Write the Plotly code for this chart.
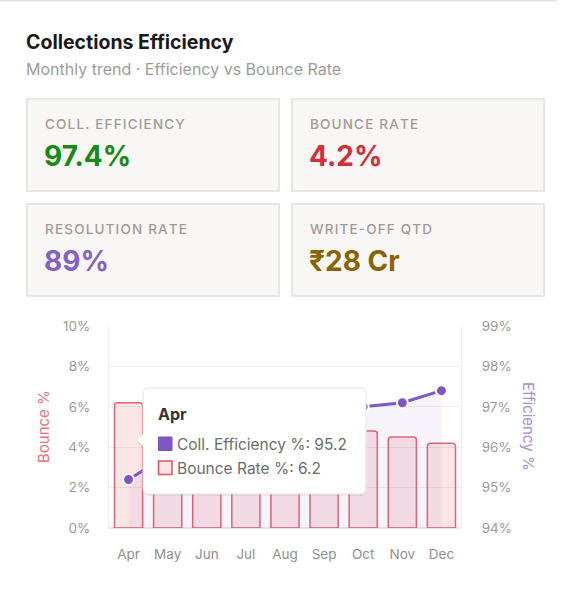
import plotly.graph_objects as go

# data
months = ['Apr', 'May', 'Jun', 'Jul', 'Aug', 'Sep', 'Oct', 'Nov', 'Dec']
bounce_rate = [6.2, 5.8, 5.5, 5.3, 5.1, 4.9, 4.8, 4.5, 4.2]
coll_efficiency = [95.2, 95.8, 96.1, 96.3, 96.6, 96.8, 97.0, 97.1, 97.4]

kpi_labels = ['COLL. EFFICIENCY', 'BOUNCE RATE', 'RESOLUTION RATE', 'WRITE-OFF QTD']
kpi_values = ['97.4%', '4.2%', '89%', '₹28 Cr']
kpi_colors = ['#178a17', '#d0303c', '#8660c4', '#8a6200']

W, H = 567, 594
PL, PR, PT, PB = 109, 461, 326, 528  # plot area in pixels

FONT = 'Inter, Roboto, sans-serif'
PURPLE = '#7e57c2'


def px(x):
    return (x - PL) / (PR - PL)


def py(y):
    return (PB - y) / (PB - PT)


def spaced(s):
    # poor man's letter-spacing
    return '\u200a'.join(s)


fig = go.Figure()

fig.add_trace(go.Bar(
    x=months, y=bounce_rate, name='Bounce Rate %',
    marker=dict(color='rgba(220,53,69,0.13)',
                line=dict(color='rgba(220,53,69,0.75)', width=1.5),
                cornerradius=3),
    width=0.72,
))

fig.add_trace(go.Scatter(
    x=months, y=coll_efficiency, name='Coll. Efficiency %', yaxis='y2',
    mode='lines+markers',
    line=dict(color=PURPLE, width=3),
    marker=dict(size=11, color=PURPLE, line=dict(color='white', width=2)),
    fill='tozeroy', fillcolor='rgba(126,87,194,0.07)',
))

shapes = []
annotations = []

# top border of the card
shapes.append(dict(type='line', xref='paper', yref='paper',
                   x0=px(0), x1=px(557), y0=py(0.5), y1=py(0.5),
                   line=dict(color='#e2e2e2', width=2)))

# header
annotations.append(dict(text='<b>Collections Efficiency</b>', xref='paper', yref='paper',
                        x=px(24), y=py(42), xanchor='left', yanchor='middle', showarrow=False,
                        font=dict(family=FONT, size=19.5, color='#1a1a1a')))
annotations.append(dict(text='Monthly trend · Efficiency vs Bounce Rate', xref='paper', yref='paper',
                        x=px(24), y=py(69), xanchor='left', yanchor='middle', showarrow=False,
                        font=dict(family=FONT, size=16, color='#9c9c9c')))

# KPI cards
card_x = [(27, 279), (292, 544)]
card_y = [(99, 191), (204, 296)]
for i, (lab, val, col) in enumerate(zip(kpi_labels, kpi_values, kpi_colors)):
    x0, x1 = card_x[i % 2]
    y0, y1 = card_y[i // 2]
    shapes.append(dict(type='rect', xref='paper', yref='paper',
                       x0=px(x0), x1=px(x1), y0=py(y0), y1=py(y1),
                       fillcolor='#f8f7f5', line=dict(color='#e8e6e3', width=2)))
    annotations.append(dict(text=spaced(lab), xref='paper', yref='paper',
                            x=px(x0 + 16), y=py(y0 + 25), xanchor='left', yanchor='middle',
                            showarrow=False,
                            font=dict(family=FONT, size=13.5, weight=500, color='#a19b95')))
    annotations.append(dict(text='<b>' + val + '</b>', xref='paper', yref='paper',
                            x=px(x0 + 15), y=py(y0 + 57), xanchor='left', yanchor='middle',
                            showarrow=False,
                            font=dict(family=FONT, size=28, color=col)))

# axis titles
annotations.append(dict(text='Bounce %', xref='paper', yref='paper', x=px(43), y=py(427),
                        textangle=-90, showarrow=False, xanchor='center', yanchor='middle',
                        font=dict(family=FONT, size=15, color='#e8737e')))
annotations.append(dict(text='Efficiency %', xref='paper', yref='paper', x=px(529), y=py(426),
                        textangle=90, showarrow=False, xanchor='center', yanchor='middle',
                        font=dict(family=FONT, size=15, color='#a98bd6')))

# hover tooltip for Apr
tx0, tx1, ty0, ty1, r = 143, 366, 388, 494, 6
cy = 440


def tip_path(dx=0, dy=0):
    a0, a1, b0, b1 = px(tx0 + dx), px(tx1 + dx), py(ty0 + dy), py(ty1 + dy)
    rx = r / (PR - PL)
    ry = r / (PB - PT)
    c_top = py(cy - 6 + dy)
    c_bot = py(cy + 6 + dy)
    c_tip = px(tx0 - 6 + dx)
    c_mid = py(cy + dy)
    return (f'M {a0 + rx},{b0} L {a1 - rx},{b0} Q {a1},{b0} {a1},{b0 - ry} '
            f'L {a1},{b1 + ry} Q {a1},{b1} {a1 - rx},{b1} '
            f'L {a0 + rx},{b1} Q {a0},{b1} {a0},{b1 + ry} '
            f'L {a0},{c_bot} L {c_tip},{c_mid} L {a0},{c_top} '
            f'L {a0},{b0 - ry} Q {a0},{b0} {a0 + rx},{b0} Z')


shapes.append(dict(type='path', xref='paper', yref='paper', path=tip_path(0, 2), layer='above',
                   fillcolor='rgba(0,0,0,0.05)', line=dict(width=0)))
shapes.append(dict(type='path', xref='paper', yref='paper', path=tip_path(), layer='above',
                   fillcolor='white', line=dict(color='#e6e6e6', width=1)))
shapes.append(dict(type='rect', xref='paper', yref='paper', layer='above',
                   x0=px(158.5), x1=px(172), y0=py(437), y1=py(450.5),
                   fillcolor=PURPLE, line=dict(color=PURPLE, width=1)))
shapes.append(dict(type='rect', xref='paper', yref='paper', layer='above',
                   x0=px(158.5), x1=px(172), y0=py(461), y1=py(474.5),
                   fillcolor='#fbe3e6', line=dict(color='#e0505c', width=1.5)))

annotations.append(dict(text='<b>' + months[0] + '</b>', xref='paper', yref='paper',
                        x=px(156), y=py(414), xanchor='left', yanchor='middle', showarrow=False,
                        font=dict(family=FONT, size=16, color='#333333')))
annotations.append(dict(text=f'Coll. Efficiency %: {coll_efficiency[0]}', xref='paper', yref='paper',
                        x=px(175), y=py(444), xanchor='left', yanchor='middle', showarrow=False,
                        font=dict(family=FONT, size=15.5, color='#6b6b6b')))
annotations.append(dict(text=f'Bounce Rate %: {bounce_rate[0]}', xref='paper', yref='paper',
                        x=px(175), y=py(468), xanchor='left', yanchor='middle', showarrow=False,
                        font=dict(family=FONT, size=15.5, color='#6b6b6b')))

fig.update_layout(
    width=W, height=H,
    margin=dict(l=PL, r=W - PR, t=PT, b=H - PB, pad=0),
    paper_bgcolor='white', plot_bgcolor='white',
    showlegend=False,
    hovermode=False,
    font=dict(family=FONT, size=13.5, color='#999999'),
    xaxis=dict(showgrid=False, showline=False, ticks='', ticklabelstandoff=16,
               tickfont=dict(size=13.5, color='#8f8f8f')),
    yaxis=dict(range=[0, 10], dtick=2, ticksuffix='%', showgrid=True, gridcolor='#eeeeee',
               zeroline=True, zerolinecolor='#e8e8e8', showline=True, linecolor='#eeeeee',
               ticklabelstandoff=15, tickfont=dict(size=13.5, color='#9a9a9a')),
    yaxis2=dict(range=[94, 99], dtick=1, ticksuffix='%', overlaying='y', side='right',
                showgrid=False, zeroline=False, showline=True, linecolor='#eeeeee',
                ticklabelstandoff=17, tickfont=dict(size=13.5, color='#9a9a9a')),
    shapes=shapes,
    annotations=annotations,
)

fig.write_html("out.html", config={'displayModeBar': False},
               post_script="document.body.style.margin='0';")
